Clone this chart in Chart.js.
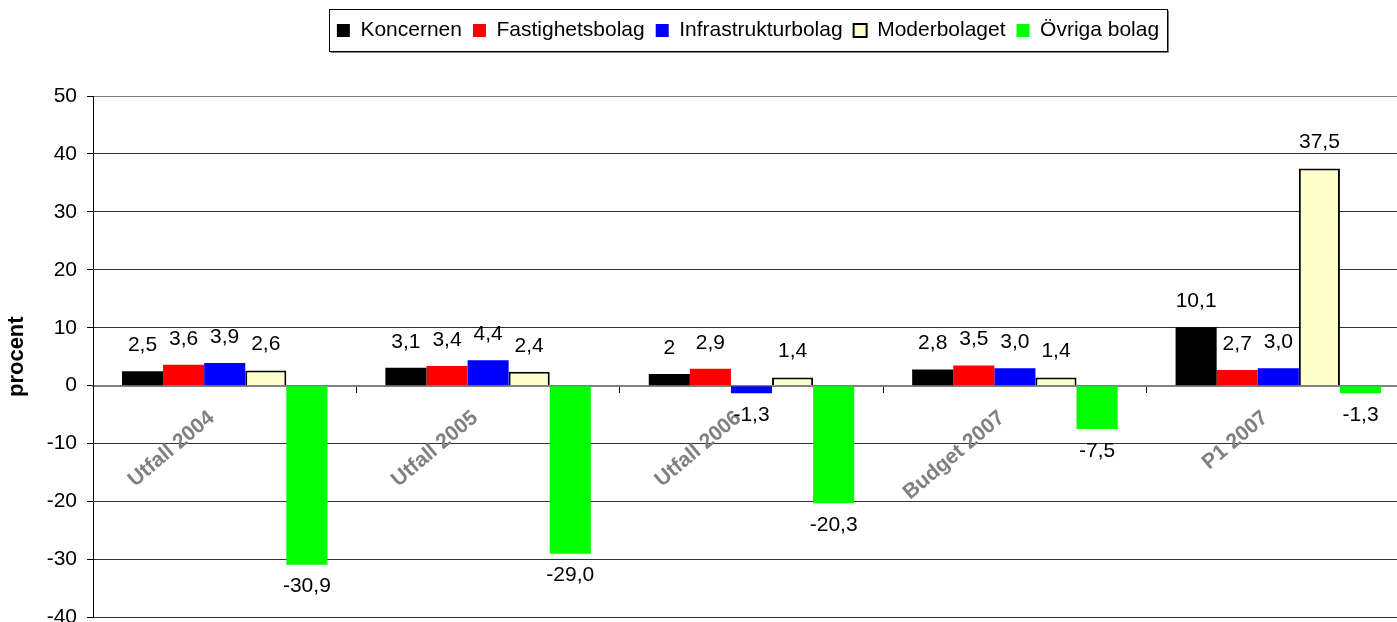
<!DOCTYPE html>
<html>
<head>
<meta charset="utf-8">
<script src="https://cdn.jsdelivr.net/npm/chart.js@4/dist/chart.umd.min.js"></script>
<style>
  html, body { margin: 0; padding: 0; background: #fff; overflow: hidden; }
  #wrap { width: 1500px; height: 640px; }
</style>
</head>
<body>
<div id="wrap"><canvas id="myChart"></canvas></div>
<script>
// categories and series values (procent)
const categories = ['Utfall 2004', 'Utfall 2005', 'Utfall 2006', 'Budget 2007', 'P1 2007'];
const koncernen = [2.5, 3.1, 2, 2.8, 10.1];
const fastighetsbolag = [3.6, 3.4, 2.9, 3.5, 2.7];
const infrastrukturbolag = [3.9, 4.4, -1.3, 3.0, 3.0];
const moderbolaget = [2.6, 2.4, 1.4, 1.4, 37.5];
const ovrigaBolag = [-30.9, -29.0, -20.3, -7.5, -1.3];

// y axis ticks
const yMin = -40;
const yMax = 50;
const yStep = 10;

Chart.defaults.font.family = '"Liberation Sans", Arial, sans-serif';

// Koncernen is shown as typed ("2"), the others with one decimal
function formatValue(ds, v) {
    const s = ds.general ? String(v) : v.toFixed(1);
    return s.replace('.', ',');
}

// labels above positive bars, below negative ones
const valueLabels = {
    id: 'valueLabels',
    afterDatasetsDraw(chart) {
        const ctx = chart.ctx;
        ctx.save();
        ctx.font = '21px "Liberation Sans", Arial, sans-serif';
        ctx.fillStyle = '#000';
        ctx.textAlign = 'center';
        ctx.textBaseline = 'middle';
        chart.data.datasets.forEach((ds, i) => {
            chart.getDatasetMeta(i).data.forEach((bar, j) => {
                const v = ds.data[j];
                const y = v >= 0 ? bar.y - 26 : bar.y + 22;
                ctx.fillText(formatValue(ds, v), bar.x, y);
            });
        });
        ctx.restore();
    }
};

// frame round the legend, extra space under it, legend centred over the plot
const legendBox = {
    id: 'legendBox',
    beforeInit(chart) {
        const fit = chart.legend.fit;
        chart.legend.fit = function () {
            fit.bind(chart.legend)();
            this.height += 45;
        };
    },
    afterLayout(chart) {
        chart.legend.left += 43;
        chart.legend.right += 43;
    },
    afterDraw(chart) {
        const boxes = chart.legend.legendHitBoxes;
        if (!boxes || !boxes.length) return;
        const first = boxes[0];
        const last = boxes[boxes.length - 1];
        const ctx = chart.ctx;
        const x1 = Math.round(first.left - 8) + 0.5;
        const x2 = Math.round(last.left + last.width + 8) + 0.5;
        const y1 = Math.round(first.top - 11) + 0.5;
        const y2 = Math.round(first.top + first.height + 10) + 0.5;
        ctx.save();
        ctx.strokeStyle = '#000';
        ctx.lineWidth = 1;
        ctx.strokeRect(x1, y1, x2 - x1, y2 - y1);
        ctx.strokeStyle = '#808080';
        ctx.beginPath();
        ctx.moveTo(x1 + 1, y2 + 1);
        ctx.lineTo(x2 + 1, y2 + 1);
        ctx.lineTo(x2 + 1, y1 + 1);
        ctx.stroke();
        ctx.restore();
    }
};

const ctx = document.getElementById('myChart').getContext('2d');
const myChart = new Chart(ctx, {
    type: 'bar',
    data: {
        labels: categories,
        datasets: [
            { label: 'Koncernen', data: koncernen, backgroundColor: '#000000', borderWidth: 0, general: true },
            { label: 'Fastighetsbolag', data: fastighetsbolag, backgroundColor: '#ff0000', borderWidth: 0 },
            { label: 'Infrastrukturbolag', data: infrastrukturbolag, backgroundColor: '#0000ff', borderWidth: 0 },
            { label: 'Moderbolaget', data: moderbolaget, backgroundColor: '#ffffcc', borderColor: '#000000', borderWidth: 2 },
            { label: 'Övriga bolag', data: ovrigaBolag, backgroundColor: '#00ff00', borderWidth: 0 }
        ]
    },
    options: {
        responsive: true,
        maintainAspectRatio: false,
        animation: false,
        categoryPercentage: 0.78,
        barPercentage: 1,
        layout: { padding: { top: 9, right: 90, bottom: 0, left: 0 } },
        plugins: {
            legend: {
                labels: {
                    boxWidth: 13,
                    boxHeight: 13,
                    padding: 11,
                    color: '#000',
                    font: { size: 21 }
                }
            },
            tooltip: { enabled: false }
        },
        scales: {
            x: {
                position: { y: 0 },
                grid: { drawOnChartArea: false, color: '#000', tickLength: 6, offset: true },
                border: { color: '#808080', width: 2 },
                ticks: {
                    color: '#808080',
                    font: { size: 21, weight: 'bold' },
                    minRotation: 40,
                    maxRotation: 40,
                    padding: 14,
                    labelOffset: -13,
                    autoSkip: false
                }
            },
            y: {
                min: yMin,
                max: yMax,
                afterFit(scale) { scale.width = 93; },
                ticks: { stepSize: yStep, color: '#000', font: { size: 21 }, padding: 10 },
                grid: {
                    color: c => (c.tick && (c.tick.value === yMax || c.tick.value === 0)) ? '#808080' : '#333333',
                    tickColor: '#000',
                    tickLength: 6
                },
                border: { color: '#000', width: 1 },
                title: { display: true, text: 'procent', color: '#000', font: { size: 22, weight: 'bold' }, padding: 4 }
            }
        }
    },
    plugins: [valueLabels, legendBox]
});
</script>
</body>
</html>
